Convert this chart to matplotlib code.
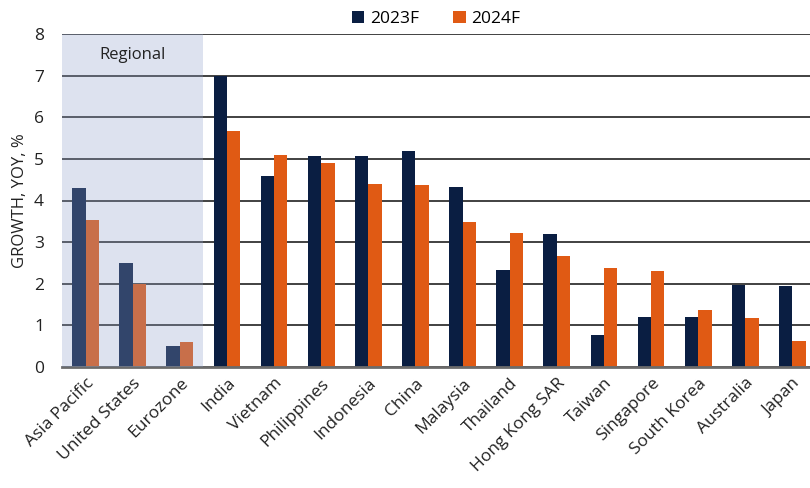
import numpy as np
import matplotlib.pyplot as plt

plt.rcParams['font.family'] = ['Open Sans', 'DejaVu Sans']

# GDP growth forecasts, % year on year
countries = ['Asia Pacific', 'United States', 'Eurozone', 'India', 'Vietnam',
             'Philippines', 'Indonesia', 'China', 'Malaysia', 'Thailand',
             'Hong Kong SAR', 'Taiwan', 'Singapore', 'South Korea', 'Australia', 'Japan']
growth_2023 = [4.3, 2.5, 0.5, 7.0, 4.6, 5.07, 5.08, 5.2, 4.33, 2.33, 3.2, 0.77, 1.2, 1.19, 1.96, 1.95]
growth_2024 = [3.52, 2.0, 0.6, 5.66, 5.1, 4.89, 4.4, 4.37, 3.48, 3.21, 2.67, 2.37, 2.3, 1.37, 1.17, 0.62]
n_regional = 3

navy = '#0a1e42'
orange = '#e05a14'

fig = plt.figure(figsize=(8.1, 4.88), dpi=100)
ax = fig.add_axes([62 / 810, 1 - 367 / 488, 748 / 810, 333 / 488])

x = np.arange(len(countries))
w = 0.283
ax.bar(x - w / 2, growth_2023, w, color=navy, label='2023F', zorder=2)
ax.bar(x + w / 2, growth_2024, w, color=orange, label='2024F', zorder=2)

# shaded block over the regional aggregates
ax.axvspan(-0.5, n_regional - 0.5, color='#91a2ca', alpha=0.3, lw=0, zorder=3)
ax.text((n_regional - 1) / 2, 7.5, 'Regional', ha='center', va='center',
        fontsize=12, color='#222222', zorder=4)

ax.set_xlim(-0.5, 15.5 - 6 / 47.1)
ax.set_ylim(0, 8)
ax.set_yticks(range(0, 9))
ax.yaxis.grid(True, color='#333333', lw=1.3, zorder=1)
ax.set_axisbelow(True)
for side in ['left', 'right', 'top']:
    ax.spines[side].set_visible(False)
ax.spines['bottom'].set_color('#6b6b6b')
ax.spines['bottom'].set_linewidth(2)
ax.tick_params(axis='both', length=0, labelsize=12.5, colors='#222222')
ax.tick_params(axis='y', pad=13)
ax.set_xticks(x)
ax.set_xticklabels(countries, rotation=45, ha='right', rotation_mode='anchor')
ax.tick_params(axis='x', pad=6)
ax.set_ylabel('GROWTH, YOY, %', fontsize=12, color='#222222', labelpad=4)

ax.legend(loc='lower center', bbox_to_anchor=(0.5, 0.995), ncol=2, frameon=False,
          fontsize=12.5, handlelength=0.7, handleheight=0.7, handletextpad=0.3,
          columnspacing=2.0, borderaxespad=0.1)

fig.savefig('out.png', dpi=100)
